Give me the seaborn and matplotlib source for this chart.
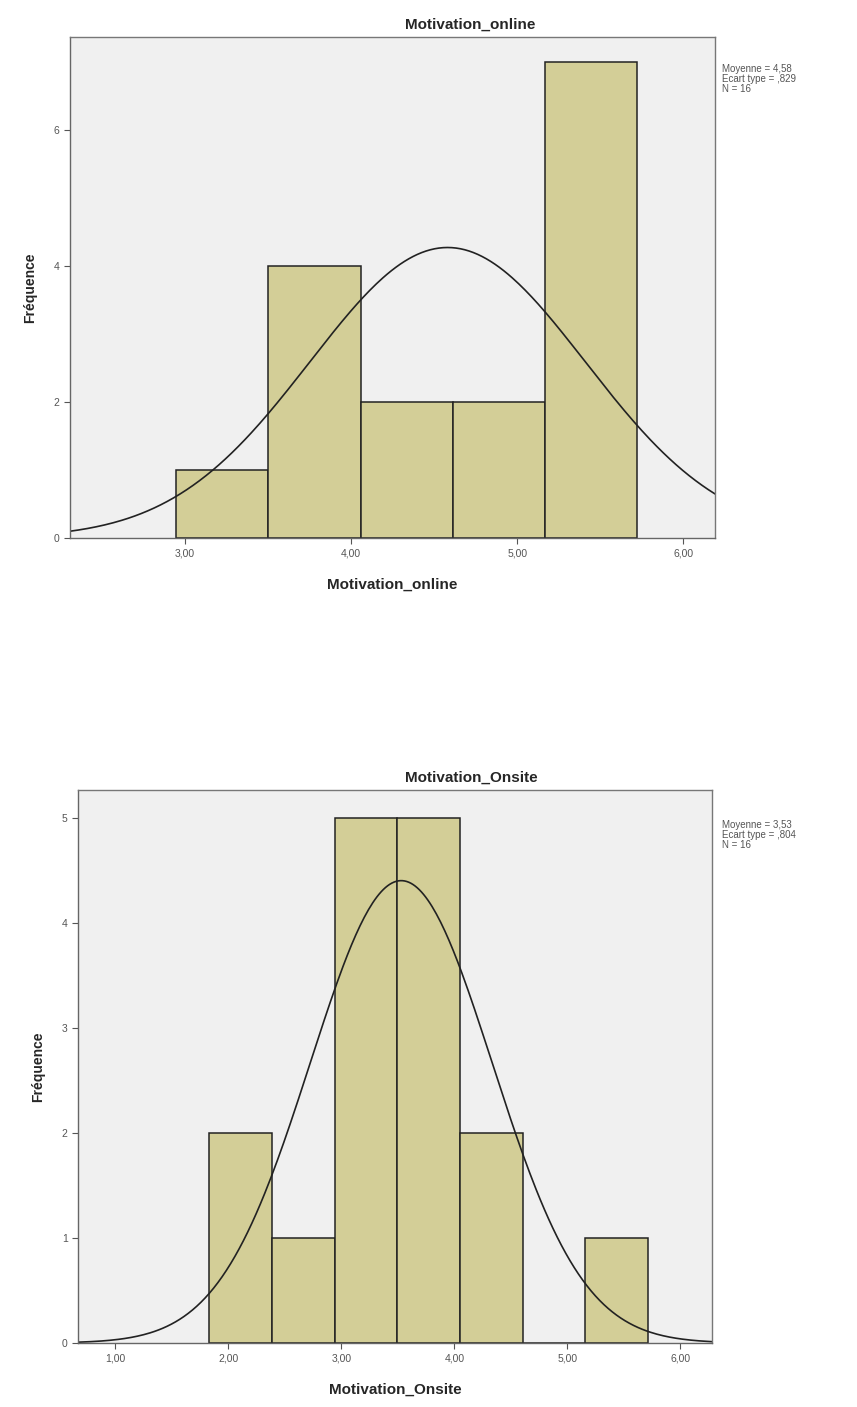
import seaborn as sns
import pandas as pd
import numpy as np
import matplotlib
matplotlib.use('Agg')
import matplotlib.pyplot as plt
from matplotlib.ticker import FuncFormatter

# Histogram data
online_edges = [2.946, 3.501, 4.056, 4.611, 5.166, 5.721]
online_counts = [1, 4, 2, 2, 7]
online_stats = {'mean': 4.58, 'sd': 0.829, 'n': 16}
online_xticks = [3, 4, 5, 6]
online_yticks = [0, 2, 4, 6]

onsite_edges = [1.830, 2.385, 2.940, 3.495, 4.050, 4.605, 5.160, 5.715]
onsite_counts = [2, 1, 5, 5, 2, 0, 1]
onsite_stats = {'mean': 3.53, 'sd': 0.804, 'n': 16}
onsite_xticks = [1, 2, 3, 4, 5, 6]
onsite_yticks = [0, 1, 2, 3, 4, 5]

sns.set_style('white')
plt.rcParams['font.family'] = ['Liberation Sans', 'DejaVu Sans']

BAR = '#d3ce97'
BG = '#f0f0f0'

fig = plt.figure(figsize=(8.57, 14.07), dpi=100)


def draw(ax, edges, counts, stats, xlim, ylim, xticks, yticks, name, ann_y):
    e = np.array(edges)
    centers = (e[:-1] + e[1:]) / 2
    df = pd.DataFrame({'x': centers, 'w': counts})
    ax.set_facecolor(BG)
    sns.histplot(data=df, x='x', weights='w', bins=list(edges), ax=ax,
                 color=BAR, alpha=1, edgecolor='#222222', linewidth=1.1)
    # fitted normal curve (SPSS style)
    bw = e[1] - e[0]
    xs = np.linspace(xlim[0], xlim[1], 300)
    ys = stats['n'] * bw / (stats['sd'] * np.sqrt(2 * np.pi)) * \
        np.exp(-0.5 * ((xs - stats['mean']) / stats['sd']) ** 2)
    sns.lineplot(x=xs, y=ys, ax=ax, color='#222222', linewidth=1.2)
    ax.set_xlim(*xlim)
    ax.set_ylim(*ylim)
    ax.set_xticks(xticks)
    ax.set_yticks(yticks)
    ax.xaxis.set_major_formatter(FuncFormatter(lambda v, p: f'{v:.2f}'.replace('.', ',')))
    ax.tick_params(axis='both', labelsize=7.5, colors='#555555', length=4,
                   direction='out', bottom=True, left=True)
    for s in ax.spines.values():
        s.set_color('#777777')
        s.set_linewidth(1.0)
    ax.spines['left'].set_color('#666666')
    ax.spines['bottom'].set_color('#666666')
    ax.set_xlabel(name, fontsize=11, fontweight='bold', labelpad=14)
    ax.set_ylabel('Fréquence', fontsize=10, fontweight='bold', labelpad=12)
    ax.set_title(name, fontsize=11, fontweight='bold', x=0.62, pad=6)
    mean_s = f"{stats['mean']:.2f}".replace('.', ',')
    sd_s = f"{stats['sd']:.3f}".replace('0.', ',')
    fig.text(722 / 857, ann_y, f"Moyenne = {mean_s}\nEcart type = {sd_s}\nN = {stats['n']}",
             fontsize=7, color='#555555', va='top', linespacing=1.0)


ax1 = fig.add_axes([70 / 857, 1 - 538 / 1407, 645 / 857, 501 / 1407])
draw(ax1, online_edges, online_counts, online_stats, (2.307, 6.19), (0, 7.37),
     online_xticks, online_yticks, 'Motivation_online', 1 - 64 / 1407)

ax2 = fig.add_axes([78 / 857, 1 - 1343 / 1407, 634 / 857, 553 / 1407])
draw(ax2, onsite_edges, onsite_counts, onsite_stats, (0.67, 6.28), (0, 5.27),
     onsite_xticks, onsite_yticks, 'Motivation_Onsite', 1 - 820 / 1407)

plt.savefig('out.png', dpi=100)
